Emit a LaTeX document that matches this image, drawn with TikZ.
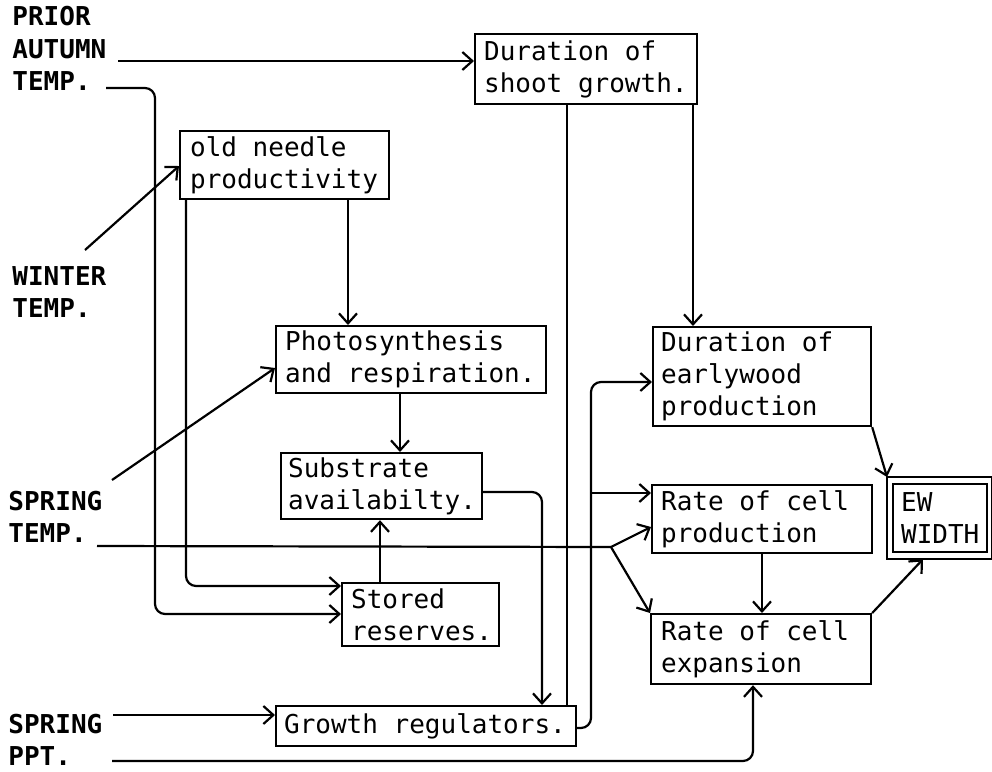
\documentclass[tikz,border=0pt]{standalone}
\usepackage{fontspec}
\setmonofont{DejaVu Sans Mono}
\usetikzlibrary{arrows.meta}
\newcommand\dgfont{\ttfamily\fontsize{13}{16}\selectfont}
\begin{document}
\begin{tikzpicture}[x=0.5pt,y=-0.5pt,
  box/.style={draw, line width=1.1pt, rectangle, anchor=north west, align=left,
              inner xsep=4.5pt, inner ysep=0pt, font=\dgfont,
              % word spaces take a full character cell
              execute at begin node={\spaceskip=7.83pt\relax\xspaceskip=7.83pt\relax}},
  lab/.style={anchor=base west, inner sep=0pt, font=\dgfont\bfseries},
  line/.style={draw, line width=1.1pt},
  conn/.style={line, -{Straight Barb[length=5pt,width=9pt,line width=1.1pt]}},
  routed/.style={rounded corners=5pt}]
\useasboundingbox (0,0) rectangle (992,772);

% driving variables
\node[lab] (prior)   at (12,25)  {PRIOR};
\node[lab] (autumn)  at (12,58)  {AUTUMN};
\node[lab] (atemp)   at (12,90)  {TEMP.};
\node[lab] (winter)  at (12,285) {WINTER};
\node[lab] (wtemp)   at (12,317) {TEMP.};
\node[lab] (spring)  at (8,510)  {SPRING};
\node[lab] (stemp)   at (8,542)  {TEMP.};
\node[lab] (spring2) at (8,733)  {SPRING};
\node[lab] (ppt)     at (8,765)  {PPT.};

% processes
\node[box, text width=102pt, minimum height=35pt] (shoot) at (474,33)
  {Duration of\\shoot growth.};
\node[box, inner xsep=5pt, text width=94.5pt, minimum height=34pt] (old) at (179,130)
  {old needle\\productivity};
\node[box, text width=126pt, minimum height=33.5pt] (photo) at (275,325)
  {Photosynthesis\\and respiration.};
\node[box, inner xsep=3.5pt, text width=93.5pt, minimum height=33pt] (subst) at (280,452)
  {Substrate\\availabilty.};
\node[box, text width=69.5pt, minimum height=31.5pt] (stored) at (341,582)
  {Stored\\reserves.};
\node[box, inner xsep=4pt, text width=142pt, minimum height=20pt] (growth) at (275,705)
  {Growth regulators.};
\node[box, inner xsep=4pt, text width=101pt, minimum height=49.5pt] (durew) at (652,326)
  {Duration of\\earlywood\\production};
\node[box, text width=101pt, minimum height=34pt] (rcp) at (651,484)
  {Rate of cell\\production};
\node[box, inner xsep=5pt, text width=100pt, minimum height=35pt] (rce) at (650,613)
  {Rate of cell\\expansion};
\node[box, inner xsep=4pt, text width=39pt, minimum height=34pt] (ew) at (892,483)
  {EW\\WIDTH};
\coordinate (ewtl) at ([shift={(-2.5pt,3pt)}]ew.north west);
\coordinate (ewbr) at ([shift={(2pt,-3pt)}]ew.south east);
\draw[line] (ewtl) rectangle (ewbr);

% free ends of the input lines
\coordinate (a1) at (118,61);
\coordinate (t1) at (106,88);
\coordinate (w1) at (85,250);
\coordinate (s1) at (112,480);
\coordinate (s2) at (97,546);
\coordinate (sj) at (611,547);
\coordinate (sp) at (113,715);
\coordinate (pp) at (112,761);
\coordinate (jm) at (591,493);

% connections
\draw[conn] (a1) -- (shoot.west |- a1);
\draw[conn, routed] (t1) -| (155,614) -- (stored.west |- 0,614);
\draw[conn, routed] (old.south -| 186,0) |- (stored.west |- 0,586);
\draw[conn] (old.south -| 348,0) -- (photo.north -| 348,0);
\draw[conn] (w1) -- (old.west |- 0,166);
\draw[conn] (s1) -- (photo.west |- 0,368);
\draw[conn] (photo.south -| 400,0) -- (subst.north -| 400,0);
\draw[conn] (stored.north -| 380,0) -- (subst.south -| 380,0);
\draw[line] (s2) -- (sj);
\draw[conn] (sj) -- (rcp.west |- 0,527);
\draw[conn] (sj) -- (rce.north west);
\draw[conn, routed] (subst.east |- 0,492) -| (growth.north -| 542,0);
\draw[line] (shoot.south -| 567,0) -- (growth.north -| 567,0);
\draw[conn] (shoot.south -| 693,0) -- (durew.north -| 693,0);
\draw[conn, routed] (growth.east |- 0,728) -| (591,382) -- (durew.west |- 0,382);
\draw[conn] (jm) -- (rcp.west |- jm);
\draw[conn] (durew.south east) -- (ewtl);
\draw[conn] (rcp.south -| 762,0) -- (rce.north -| 762,0);
\draw[conn] (rce.north east) -- (923,0 |- ewbr);
\draw[conn, routed] (pp) -| (rce.south -| 753,0);
\draw[conn] (sp) -- (growth.west |- sp);
\end{tikzpicture}
\end{document}
